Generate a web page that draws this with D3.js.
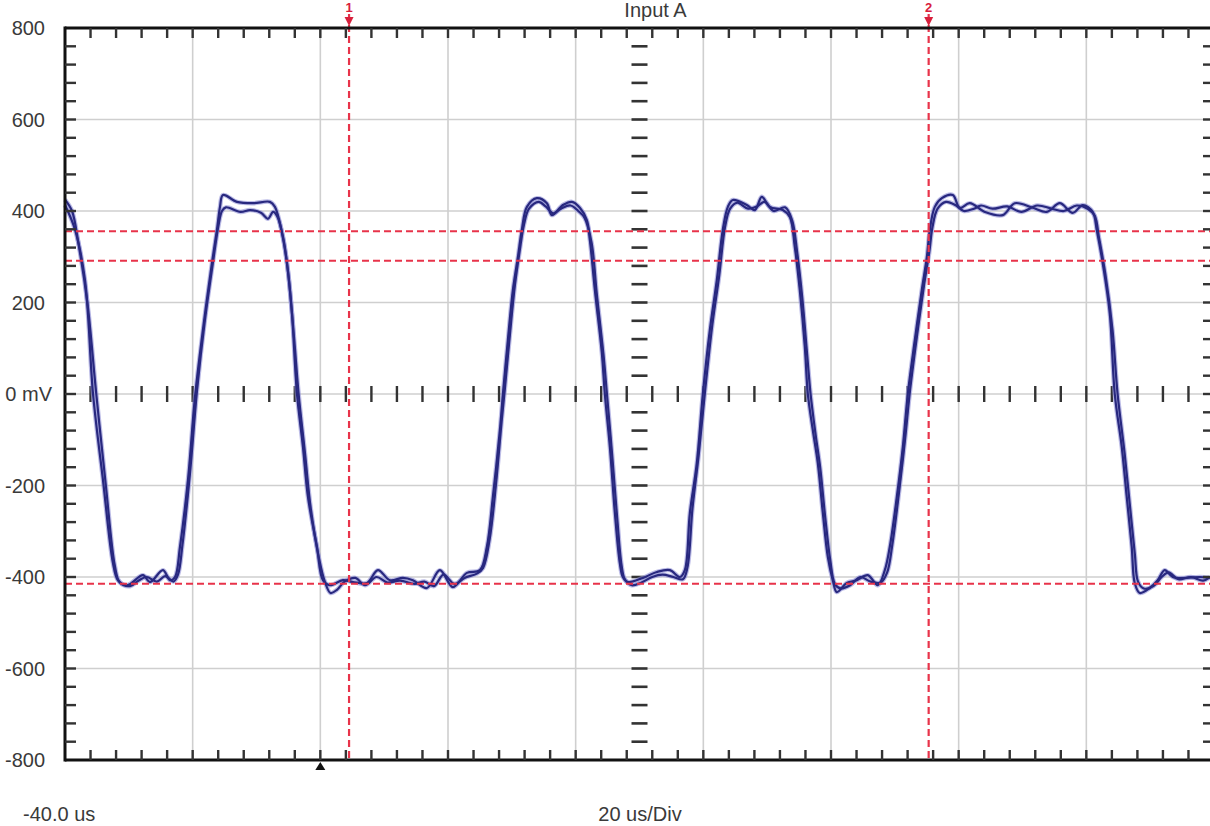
<!DOCTYPE html>
<html>
<head>
<meta charset="utf-8">
<script src="https://cdn.jsdelivr.net/npm/d3@7/dist/d3.min.js"></script>
<style>
  html, body { margin: 0; padding: 0; background: #fff; }
  svg { display: block; }
  text { font-family: "Liberation Sans", Arial, sans-serif; }
</style>
</head>
<body>
<svg id="chart" width="1210" height="826"></svg>
<script>
// ---------- data ----------
const title = "Input A";
const xStartLabel = "-40.0 us";
const xDivLabel = "20 us/Div";
const yTickValues = [800, 600, 400, 200, 0, -200, -400, -600, -800];
const yTickLabels = ["800", "600", "400", "200", "0 mV", "-200", "-400", "-600", "-800"];
const timeDomain = [-40, 140];     // us, 9 divisions of 20 us
const voltDomain = [-800, 800];    // mV
const cursorTimes = [4.5, 95.3];   // us
const cursorTimeLabels = ["1", "2"];
const cursorVolts = [356, 291, -415]; // mV
const triggerTime = 0;

// trace 1: [time us, mV]
const trace1 = [
  [-40.0,413],[-38.43,359],[-36.87,249],[-35.61,0],[-34.05,-188],[-32.48,-370],[-31.70,-407],
  [-30.29,-418],[-27.78,-396],[-26.69,-411],[-24.65,-385],[-23.56,-407],[-22.77,-400],
  [-21.99,-334],[-20.74,-188],[-19.64,-7],[-18.39,140],[-16.98,286],[-16.19,359],[-15.72,409],
  [-15.25,435],[-13.06,420],[-10.56,417],[-7.89,420],[-7.11,409],
  [-6.01,352],[-5.23,286],[-4.45,177],[-3.66,0],[-2.72,-116],[-1.94,-225],[-0.53,-334],[0.41,-407],
  [1.50,-418],[3.54,-407],[5.11,-411],[7.30,-413],[9.02,-385],[10.90,-407],[12.94,-402],[14.50,-407],
  [16.70,-424],[18.73,-385],[20.77,-422],[22.96,-391],[25.00,-385],
  [26.09,-334],[27.03,-225],[28.13,-79],[28.60,0],[29.38,118],[30.16,227],[30.95,299],[31.57,359],
  [32.36,409],[33.92,428],[35.49,417],[36.27,391],[38.00,413],[39.41,420],[40.66,407],[41.75,380],
  [42.22,337],[43.01,227],[44.10,90],[44.57,0],[45.36,-116],[46.14,-260],[46.92,-370],[47.39,-400],
  [48.18,-411],[50.53,-402],[52.72,-389],[54.76,-385],[56.32,-400],[57.10,-385],
  [57.89,-260],[58.98,-151],[59.92,0],[61.02,140],[62.11,249],[63.05,359],[63.84,409],[64.62,424],
  [66.81,413],[68.07,402],[69.16,431],[70.42,409],[72.45,402],[73.55,387],
  [74.33,321],[75.11,227],[75.90,103],[76.37,0],[77.15,-79],[77.93,-151],[78.72,-260],[79.50,-356],
  [80.28,-407],[80.91,-433],[82.47,-413],[84.04,-407],[85.76,-396],[87.33,-418],[88.43,-385],
  [89.21,-334],[90.31,-225],[91.25,-116],[92.03,0],[93.13,118],[94.22,227],[95.01,299],[95.48,359],
  [96.26,409],[97.36,428],[99.08,435],[100.17,407],[101.74,417],[104.09,398],[106.91,391],[108.79,417],
  [111.61,407],[113.80,398],[115.84,417],[117.87,396],[119.44,413],[121.00,398],
  [121.63,359],[122.57,286],[123.67,177],[124.45,0],[125.55,-116],[126.33,-225],[127.11,-334],
  [127.58,-413],[128.37,-435],[129.93,-424],[131.18,-407],[132.28,-385],[133.53,-400],[135.73,-402],
  [137.76,-400],[139.33,-402]
];

// trace 2: [time us, mV]
const trace2 = [
  [-40.0,425],[-38.9,400],[-37.9,330],[-36.5,200],[-35.1,0],[-33.6,-200],[-32.2,-375],[-31.4,-412],
  [-29.8,-420],[-28.5,-408],[-27.2,-400],[-25.6,-410],[-24.3,-398],[-23.0,-410],[-22.3,-395],
  [-21.6,-330],[-20.4,-170],[-19.3,10],[-18.1,160],[-16.8,290],[-16.0,365],[-15.4,400],[-14.8,408],
  [-12.5,398],[-11.0,402],[-9.3,396],[-8.2,383],[-7.4,398],[-6.7,387],
  [-5.8,340],[-5.0,260],[-4.1,120],[-3.4,0],[-2.4,-130],[-1.5,-250],[-0.2,-360],[0.7,-410],
  [1.6,-435],[2.6,-428],[3.8,-410],[5.5,-402],[7.0,-418],[8.8,-400],[10.5,-412],[12.5,-408],
  [14.8,-415],[16.3,-410],[17.8,-420],[19.3,-395],[21.0,-415],[22.6,-402],[24.6,-392],
  [25.5,-380],[26.5,-320],[27.5,-200],[28.4,-60],[28.9,10],[29.7,130],[30.5,240],[31.2,310],
  [31.9,370],[32.7,405],[34.2,420],[35.3,410],[36.5,395],[37.7,405],[39.2,412],[40.4,400],[41.4,385],
  [42.5,330],[43.3,220],[44.4,80],[44.9,0],[45.7,-130],[46.5,-270],[47.2,-375],[47.7,-405],
  [48.8,-418],[50.3,-412],[52.0,-400],[53.6,-395],[55.3,-400],[56.8,-405],
  [57.5,-380],[58.3,-250],[59.3,-130],[60.3,10],[61.4,150],[62.5,260],[63.4,365],[64.2,405],
  [65.3,418],[67.0,405],[68.4,410],[69.6,420],[71.0,400],[72.8,408],[73.9,380],
  [74.7,310],[75.5,210],[76.3,80],[76.8,0],[77.6,-90],[78.3,-160],[79.1,-270],[79.9,-365],
  [80.6,-415],[81.5,-425],[83.0,-418],[84.6,-400],[86.2,-410],[87.8,-412],[88.8,-390],
  [89.6,-330],[90.7,-210],[91.6,-100],[92.4,10],[93.5,130],[94.6,240],[95.4,310],[95.9,365],
  [96.7,405],[98.0,420],[99.6,412],[100.8,400],[102.4,405],[103.5,412],[105.3,405],[107.6,410],
  [109.8,398],[112.3,412],[114.6,405],[116.5,400],[118.5,412],[120.2,405],
  [121.3,390],[122.0,340],[123.0,260],[124.1,140],[124.9,0],[126.0,-130],[126.8,-240],[127.6,-350],
  [128.1,-410],[129.0,-425],[130.5,-420],[131.8,-400],[132.9,-390],[134.4,-405],[136.4,-400],
  [138.3,-408],[139.33,-400]
];

// ---------- layout ----------
const svg = d3.select("#chart");
const pL = 65, pR = 1214, pT = 28, pB = 760;
const x = d3.scaleLinear().domain(timeDomain).range([pL, pR]);
const y = d3.scaleLinear().domain(voltDomain).range([pB, pT]);

svg.append("rect").attr("width", 1210).attr("height", 826).attr("fill", "#fff");

const majorX = d3.range(timeDomain[0], timeDomain[1] + 0.001, 20);
const minorX = d3.range(timeDomain[0], timeDomain[1] + 0.001, 4);
const majorY = d3.range(voltDomain[0], voltDomain[1] + 0.001, 200);
const minorY = d3.range(voltDomain[0], voltDomain[1] + 0.001, 40);
const centerT = (timeDomain[0] + timeDomain[1]) / 2;

// grid
const grid = svg.append("g").attr("stroke", "#cfcfcf").attr("stroke-width", 1.6);
grid.selectAll("line.gx").data(majorX).join("line")
  .attr("x1", d => x(d)).attr("x2", d => x(d)).attr("y1", pT).attr("y2", pB);
grid.selectAll("line.gy").data(majorY).join("line")
  .attr("y1", d => y(d)).attr("y2", d => y(d)).attr("x1", pL).attr("x2", pR);

// center axis ticks
const ct = svg.append("g").attr("fill", "#333");
ct.selectAll("rect.hx").data(minorX.filter(d => d > timeDomain[0])).join("rect")
  .attr("x", d => x(d) - 1.2).attr("y", y(0) - 8).attr("width", 2.4).attr("height", 16);
ct.selectAll("rect.vy").data(minorY.filter(d => d !== 0 && d > voltDomain[0] && d < voltDomain[1])).join("rect")
  .attr("x", x(centerT) - 8).attr("y", d => y(d) - 1.3).attr("width", 16).attr("height", 2.6);

// traces
const line = d3.line().x(d => x(d[0])).y(d => y(d[1])).curve(d3.curveCatmullRom.alpha(0.5));
const tg = svg.append("g").attr("fill", "none").attr("stroke-linejoin", "round");
[trace1, trace2].forEach(tr => {
  tg.append("path").datum(tr).attr("d", line).attr("stroke", "#8f8fd6").attr("stroke-width", 4.5).attr("opacity", 0.6);
});
[trace1, trace2].forEach(tr => {
  tg.append("path").datum(tr).attr("d", line).attr("stroke", "#28287f").attr("stroke-width", 2.2);
});

// cursors
const cg = svg.append("g").attr("stroke", "#e8334a").attr("stroke-dasharray", "7,4").attr("fill", "none");
cg.selectAll("line.cv").data(cursorVolts).join("line")
  .attr("x1", pL).attr("x2", 1210).attr("y1", d => y(d)).attr("y2", d => y(d)).attr("stroke-width", 2);
cg.selectAll("line.ct").data(cursorTimes).join("line")
  .attr("x1", d => x(d)).attr("x2", d => x(d)).attr("y1", 14).attr("y2", pB).attr("stroke-width", 2.2);

const cl = svg.append("g").attr("fill", "#d8203c");
cursorTimes.forEach((t, i) => {
  cl.append("text").attr("x", x(t)).attr("y", 12).attr("text-anchor", "middle")
    .attr("font-size", 13).attr("font-weight", "bold").text(cursorTimeLabels[i]);
  cl.append("path").attr("d", `M${x(t) - 4.5},17 L${x(t) + 4.5},17 L${x(t)},26 Z`);
});

// frame
const fr = svg.append("g").attr("stroke", "#111").attr("stroke-width", 3).attr("fill", "none");
fr.append("line").attr("x1", pL).attr("x2", pL).attr("y1", pT - 1.5).attr("y2", pB + 1.5);
fr.append("line").attr("x1", pR).attr("x2", pR).attr("y1", pT - 1.5).attr("y2", pB + 1.5);
fr.append("line").attr("x1", pL).attr("x2", pR).attr("y1", pT).attr("y2", pT);
fr.append("line").attr("x1", pL).attr("x2", pR).attr("y1", pB).attr("y2", pB);

// frame ticks
const ft = svg.append("g").attr("fill", "#333");
const innerX = minorX.filter(d => d > timeDomain[0] && d < timeDomain[1]);
const innerY = minorY.filter(d => d > voltDomain[0] && d < voltDomain[1]);
ft.selectAll("rect.tt").data(innerX).join("rect")
  .attr("x", d => x(d) - 1.2).attr("y", pT).attr("width", 2.4).attr("height", 10);
ft.selectAll("rect.bt").data(innerX).join("rect")
  .attr("x", d => x(d) - 1.2).attr("y", pB - 10).attr("width", 2.4).attr("height", 10);
ft.selectAll("rect.lt").data(innerY).join("rect")
  .attr("x", pL).attr("y", d => y(d) - 1.2).attr("width", 11).attr("height", 2.4);
ft.selectAll("rect.rt").data(innerY).join("rect")
  .attr("x", pR - 11).attr("y", d => y(d) - 1.2).attr("width", 11).attr("height", 2.4);

// trigger marker
svg.append("path").attr("fill", "#111")
  .attr("d", `M${x(triggerTime)},${pB + 2} L${x(triggerTime) - 5},${pB + 10} L${x(triggerTime) + 5},${pB + 10} Z`);

// labels
const lab = svg.append("g").attr("fill", "#3a3a3a").attr("font-size", 20);
lab.selectAll("text.yl").data(yTickValues).join("text")
  .attr("x", d => d === 0 ? 52 : 45).attr("y", d => y(d) + 7).attr("text-anchor", "end")
  .text((d, i) => yTickLabels[i]);
lab.append("text").attr("x", x(centerT) + 16).attr("y", 17).attr("text-anchor", "middle").text(title);
lab.append("text").attr("x", 23).attr("y", 821).attr("font-size", 20).text(xStartLabel);
lab.append("text").attr("x", 640).attr("y", 821).attr("font-size", 20).attr("text-anchor", "middle").text(xDivLabel);
</script>
</body>
</html>
